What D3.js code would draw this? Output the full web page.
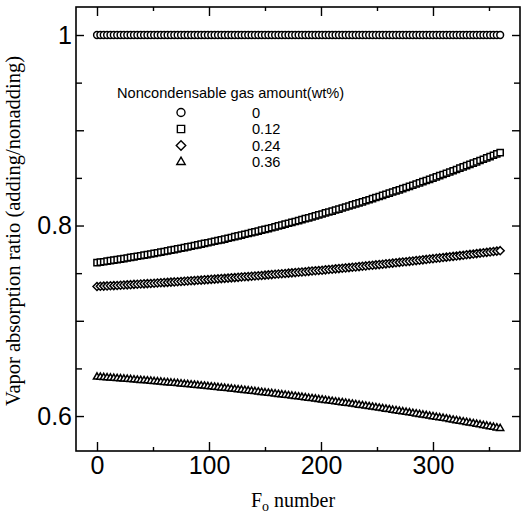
<!DOCTYPE html>
<html>
<head>
<meta charset="utf-8">
<script src="https://cdn.jsdelivr.net/npm/d3@7"></script>
<style>
  body { margin: 0; background: #fff; }
  .tick text { font-family: "Liberation Sans", Arial, sans-serif; font-size: 25px; fill: #000; }
</style>
</head>
<body>
<svg id="chart" width="526" height="513"></svg>
<script>
// Fo number (x), sampled every 3
const foNumber = [
  0, 3, 6, 9, 12, 15, 18, 21, 24, 27,
  30, 33, 36, 39, 42, 45, 48, 51, 54, 57,
  60, 63, 66, 69, 72, 75, 78, 81, 84, 87,
  90, 93, 96, 99, 102, 105, 108, 111, 114, 117,
  120, 123, 126, 129, 132, 135, 138, 141, 144, 147,
  150, 153, 156, 159, 162, 165, 168, 171, 174, 177,
  180, 183, 186, 189, 192, 195, 198, 201, 204, 207,
  210, 213, 216, 219, 222, 225, 228, 231, 234, 237,
  240, 243, 246, 249, 252, 255, 258, 261, 264, 267,
  270, 273, 276, 279, 282, 285, 288, 291, 294, 297,
  300, 303, 306, 309, 312, 315, 318, 321, 324, 327,
  330, 333, 336, 339, 342, 345, 348, 351, 354, 357,
  360
];

// gas amount 0 wt%
const ratioGas000 = [
  1, 1, 1, 1, 1, 1, 1, 1, 1, 1,
  1, 1, 1, 1, 1, 1, 1, 1, 1, 1,
  1, 1, 1, 1, 1, 1, 1, 1, 1, 1,
  1, 1, 1, 1, 1, 1, 1, 1, 1, 1,
  1, 1, 1, 1, 1, 1, 1, 1, 1, 1,
  1, 1, 1, 1, 1, 1, 1, 1, 1, 1,
  1, 1, 1, 1, 1, 1, 1, 1, 1, 1,
  1, 1, 1, 1, 1, 1, 1, 1, 1, 1,
  1, 1, 1, 1, 1, 1, 1, 1, 1, 1,
  1, 1, 1, 1, 1, 1, 1, 1, 1, 1,
  1, 1, 1, 1, 1, 1, 1, 1, 1, 1,
  1, 1, 1, 1, 1, 1, 1, 1, 1, 1,
  1
];

// gas amount 0.12 wt%
const ratioGas012 = [
  0.7610, 0.7615, 0.7620, 0.7626, 0.7631, 0.7636, 0.7642, 0.7648, 0.7653, 0.7659,
  0.7665, 0.7671, 0.7677, 0.7683, 0.7689, 0.7695, 0.7701, 0.7708, 0.7714, 0.7721,
  0.7727, 0.7734, 0.7741, 0.7747, 0.7754, 0.7761, 0.7768, 0.7775, 0.7782, 0.7790,
  0.7797, 0.7804, 0.7812, 0.7819, 0.7827, 0.7835, 0.7843, 0.7850, 0.7858, 0.7866,
  0.7874, 0.7883, 0.7891, 0.7899, 0.7908, 0.7916, 0.7925, 0.7933, 0.7942, 0.7951,
  0.7960, 0.7968, 0.7977, 0.7986, 0.7996, 0.8005, 0.8014, 0.8024, 0.8033, 0.8042,
  0.8052, 0.8062, 0.8072, 0.8081, 0.8091, 0.8101, 0.8111, 0.8121, 0.8132, 0.8142,
  0.8152, 0.8163, 0.8173, 0.8184, 0.8194, 0.8205, 0.8216, 0.8227, 0.8238, 0.8249,
  0.8260, 0.8271, 0.8282, 0.8294, 0.8305, 0.8317, 0.8328, 0.8340, 0.8352, 0.8363,
  0.8375, 0.8387, 0.8399, 0.8411, 0.8423, 0.8436, 0.8448, 0.8460, 0.8473, 0.8485,
  0.8498, 0.8511, 0.8523, 0.8536, 0.8549, 0.8562, 0.8575, 0.8588, 0.8602, 0.8615,
  0.8628, 0.8642, 0.8655, 0.8669, 0.8683, 0.8696, 0.8710, 0.8724, 0.8738, 0.8752,
  0.8766
];

// gas amount 0.24 wt%
const ratioGas024 = [
  0.7360, 0.7362, 0.7364, 0.7366, 0.7368, 0.7369, 0.7371, 0.7373, 0.7375, 0.7377,
  0.7379, 0.7382, 0.7384, 0.7386, 0.7388, 0.7390, 0.7392, 0.7394, 0.7397, 0.7399,
  0.7401, 0.7403, 0.7406, 0.7408, 0.7410, 0.7413, 0.7415, 0.7417, 0.7420, 0.7422,
  0.7425, 0.7427, 0.7430, 0.7432, 0.7435, 0.7437, 0.7440, 0.7443, 0.7445, 0.7448,
  0.7451, 0.7453, 0.7456, 0.7459, 0.7462, 0.7464, 0.7467, 0.7470, 0.7473, 0.7476,
  0.7479, 0.7482, 0.7485, 0.7488, 0.7491, 0.7494, 0.7497, 0.7500, 0.7503, 0.7506,
  0.7509, 0.7512, 0.7515, 0.7519, 0.7522, 0.7525, 0.7528, 0.7531, 0.7535, 0.7538,
  0.7541, 0.7545, 0.7548, 0.7552, 0.7555, 0.7558, 0.7562, 0.7565, 0.7569, 0.7572,
  0.7576, 0.7580, 0.7583, 0.7587, 0.7590, 0.7594, 0.7598, 0.7601, 0.7605, 0.7609,
  0.7613, 0.7617, 0.7620, 0.7624, 0.7628, 0.7632, 0.7636, 0.7640, 0.7644, 0.7648,
  0.7652, 0.7656, 0.7660, 0.7664, 0.7668, 0.7672, 0.7676, 0.7680, 0.7684, 0.7688,
  0.7693, 0.7697, 0.7701, 0.7705, 0.7710, 0.7714, 0.7718, 0.7723, 0.7727, 0.7731,
  0.7736
];

// gas amount 0.36 wt%
const ratioGas036 = [
  0.6410, 0.6408, 0.6405, 0.6403, 0.6400, 0.6397, 0.6395, 0.6392, 0.6389, 0.6387,
  0.6384, 0.6381, 0.6378, 0.6375, 0.6373, 0.6370, 0.6367, 0.6364, 0.6361, 0.6358,
  0.6354, 0.6351, 0.6348, 0.6345, 0.6342, 0.6338, 0.6335, 0.6332, 0.6328, 0.6325,
  0.6322, 0.6318, 0.6315, 0.6311, 0.6307, 0.6304, 0.6300, 0.6296, 0.6293, 0.6289,
  0.6285, 0.6281, 0.6277, 0.6274, 0.6270, 0.6266, 0.6262, 0.6258, 0.6254, 0.6249,
  0.6245, 0.6241, 0.6237, 0.6233, 0.6228, 0.6224, 0.6220, 0.6215, 0.6211, 0.6207,
  0.6202, 0.6198, 0.6193, 0.6188, 0.6184, 0.6179, 0.6174, 0.6170, 0.6165, 0.6160,
  0.6155, 0.6150, 0.6146, 0.6141, 0.6136, 0.6131, 0.6126, 0.6121, 0.6115, 0.6110,
  0.6105, 0.6100, 0.6095, 0.6089, 0.6084, 0.6079, 0.6073, 0.6068, 0.6062, 0.6057,
  0.6051, 0.6046, 0.6040, 0.6035, 0.6029, 0.6023, 0.6018, 0.6012, 0.6006, 0.6000,
  0.5994, 0.5988, 0.5983, 0.5977, 0.5971, 0.5965, 0.5958, 0.5952, 0.5946, 0.5940,
  0.5934, 0.5928, 0.5921, 0.5915, 0.5909, 0.5902, 0.5896, 0.5889, 0.5883, 0.5876,
  0.5870
];

const gasLabels = ["0", "0.12", "0.24", "0.36"];
const xMajorTicks = [0, 100, 200, 300];
const xMinorTicks = [50, 150, 250, 350];
const yMajorTicks = [0.6, 0.7, 0.8, 0.9, 1.0];
const yMinorTicks = [0.65, 0.75, 0.85, 0.95];
const yLabelled = [0.6, 0.8, 1.0];

const svg = d3.select("#chart");
const plotLeft = 76, plotRight = 520, plotTop = 7, plotBottom = 451;

const x = d3.scaleLinear().domain([-18.75, 377.7]).range([plotLeft, plotRight]);
const y = d3.scaleLinear().domain([0.5633, 1.0294]).range([plotBottom, plotTop]);

// frame
svg.append("rect")
  .attr("x", plotLeft).attr("y", plotTop)
  .attr("width", plotRight - plotLeft).attr("height", plotBottom - plotTop)
  .attr("fill", "none").attr("stroke", "#000").attr("stroke-width", 1.6);

function styleAxis(g) {
  g.select(".domain").remove();
  g.selectAll(".tick line").attr("stroke", "#000").attr("stroke-width", 1.4);
}

// bottom axis with labels, ticks pointing in
svg.append("g")
  .attr("transform", `translate(0,${plotBottom})`)
  .call(d3.axisBottom(x).tickValues(xMajorTicks).tickSize(-9).tickPadding(5).tickFormat(d3.format("d")))
  .call(styleAxis);
svg.append("g")
  .attr("transform", `translate(0,${plotBottom})`)
  .call(d3.axisBottom(x).tickValues(xMinorTicks).tickSize(-4).tickFormat(""))
  .call(styleAxis);
// top axis
svg.append("g")
  .attr("transform", `translate(0,${plotTop})`)
  .call(d3.axisTop(x).tickValues(xMajorTicks).tickSize(-9).tickFormat(""))
  .call(styleAxis);
svg.append("g")
  .attr("transform", `translate(0,${plotTop})`)
  .call(d3.axisTop(x).tickValues(xMinorTicks).tickSize(-4).tickFormat(""))
  .call(styleAxis);

// left axis
svg.append("g")
  .attr("transform", `translate(${plotLeft},0)`)
  .call(d3.axisLeft(y).tickValues(yMajorTicks).tickSize(-8).tickPadding(4)
    .tickFormat(d => yLabelled.some(v => Math.abs(v - d) < 1e-6) ? String(+d.toFixed(1)) : ""))
  .call(styleAxis);
svg.append("g")
  .attr("transform", `translate(${plotLeft},0)`)
  .call(d3.axisLeft(y).tickValues(yMinorTicks).tickSize(-6).tickFormat(""))
  .call(styleAxis);
// right axis
svg.append("g")
  .attr("transform", `translate(${plotRight},0)`)
  .call(d3.axisRight(y).tickValues(yMajorTicks).tickSize(-8).tickFormat(""))
  .call(styleAxis);
svg.append("g")
  .attr("transform", `translate(${plotRight},0)`)
  .call(d3.axisRight(y).tickValues(yMinorTicks).tickSize(-6).tickFormat(""))
  .call(styleAxis);

// markers for each gas amount
const diamond = {
  draw(ctx, size) {
    const r = Math.sqrt(size / 2);
    ctx.moveTo(0, -r); ctx.lineTo(r, 0); ctx.lineTo(0, r); ctx.lineTo(-r, 0); ctx.closePath();
  }
};
const seriesList = [
  { values: ratioGas000, symbol: d3.symbolCircle, size: 36 },
  { values: ratioGas012, symbol: d3.symbolSquare, size: 38 },
  { values: ratioGas024, symbol: diamond, size: 32 },
  { values: ratioGas036, symbol: d3.symbolTriangle, size: 22 }
];

seriesList.forEach(s => {
  svg.append("g")
    .selectAll("path")
    .data(s.values)
    .enter()
    .append("path")
    .attr("transform", (d, i) => `translate(${x(foNumber[i])},${y(d)})`)
    .attr("d", d3.symbol().type(s.symbol).size(s.size))
    .attr("fill", "#fff")
    .attr("stroke", "#000")
    .attr("stroke-width", 1.5);
});

// legend
const legend = svg.append("g");
legend.append("text")
  .attr("x", 117).attr("y", 98)
  .style("font-family", "Liberation Sans, Arial, sans-serif")
  .style("font-size", "14.6px")
  .text("Noncondensable gas amount(wt%)");
const legendRowY = [112.5, 129, 145.5, 162];
seriesList.forEach((s, i) => {
  legend.append("path")
    .attr("transform", `translate(181,${legendRowY[i]})`)
    .attr("d", d3.symbol().type(s.symbol).size(s.size * 1.4))
    .attr("fill", "#fff").attr("stroke", "#000").attr("stroke-width", 1.4);
  legend.append("text")
    .attr("x", 252).attr("y", legendRowY[i] + 5)
    .style("font-family", "Liberation Sans, Arial, sans-serif")
    .style("font-size", "14.6px")
    .text(gasLabels[i]);
});

// axis titles
const xTitle = svg.append("text")
  .attr("x", 293).attr("y", 507)
  .attr("text-anchor", "middle")
  .style("font-family", "Liberation Serif, Times New Roman, serif")
  .style("font-size", "20px");
xTitle.append("tspan").text("F");
xTitle.append("tspan").attr("dy", 4).style("font-size", "14px").text("o");
xTitle.append("tspan").attr("dy", -4).text(" number");

svg.append("text")
  .attr("transform", "translate(20,231) rotate(-90)")
  .attr("text-anchor", "middle")
  .style("font-family", "Liberation Serif, Times New Roman, serif")
  .style("font-size", "20.5px")
  .text("Vapor absorption ratio (adding/nonadding)");
</script>
</body>
</html>
